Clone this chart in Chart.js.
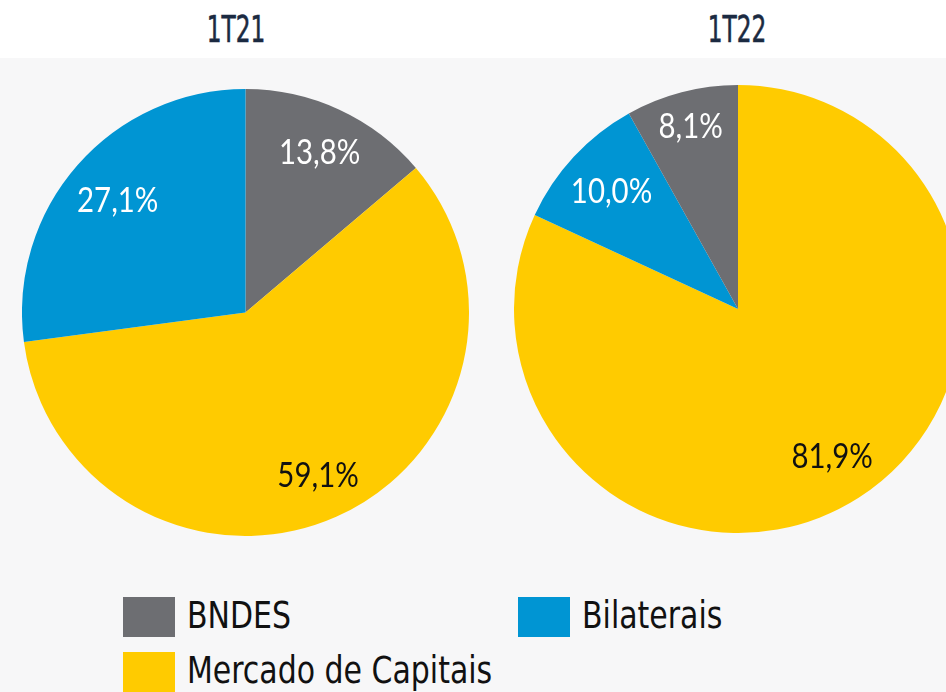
<!DOCTYPE html>
<html><head><meta charset="utf-8">
<script src="https://cdn.jsdelivr.net/npm/chart.js@4.4.1/dist/chart.umd.min.js"></script>
<style>
html,body{margin:0;padding:0;width:946px;height:692px;overflow:hidden;background:#f7f7f8;}
#top{position:absolute;left:0;top:0;width:946px;height:58px;background:#ffffff;}
.title{position:absolute;top:7px;font-family:"DejaVu Sans Condensed",sans-serif;font-size:38px;color:#1b2a41;transform:translateX(-50%) scaleX(0.68);white-space:nowrap;-webkit-text-stroke:0.6px #1b2a41;}
canvas{position:absolute;}
.leg{position:absolute;font-family:"DejaVu Sans Condensed",sans-serif;font-size:37px;color:#111;line-height:40px;transform-origin:0 0;transform:scaleX(0.9);white-space:nowrap;}
.sw{position:absolute;width:52px;height:40px;}
</style></head><body>
<div id="top"></div>
<div class="title" style="left:236px">1T21</div>
<div class="title" style="left:737px">1T22</div>
<canvas id="c1" width="447" height="447" style="left:22px;top:89px"></canvas>
<canvas id="c2" width="448" height="448" style="left:514px;top:85px"></canvas>
<div class="sw" style="left:123px;top:597px;background:#6d6e72"></div>
<div class="leg" style="left:187px;top:596px">BNDES</div>
<div class="sw" style="left:518px;top:597px;background:#0095d3"></div>
<div class="leg" style="left:582px;top:596px">Bilaterais</div>
<div class="sw" style="left:123px;top:652px;background:#ffcb00"></div>
<div class="leg" style="left:187px;top:651px">Mercado de Capitais</div>
<script>
const categories1 = ["BNDES", "Mercado de Capitais", "Bilaterais"];
const values1 = [13.8, 59.1, 27.1];
const categories2 = ["Mercado de Capitais", "Bilaterais", "BNDES"];
const values2 = [81.9, 10.0, 8.1];
const colorMap = {"BNDES":"#6d6e72","Bilaterais":"#0095d3","Mercado de Capitais":"#ffcb00"};
const textMap = {"BNDES":"#ffffff","Bilaterais":"#ffffff","Mercado de Capitais":"#111111"};

const labelPlugin = {
  id:'pctLabels',
  afterDatasetsDraw(chart){
    const ctx = chart.ctx;
    const meta = chart.getDatasetMeta(0);
    const labels = chart.data.labels;
    const vals = chart.data.datasets[0].data;
    const factors = chart.options.plugins.pctLabels.factors;
    meta.data.forEach((arc,i)=>{
      const p = arc.getProps(['x','y','startAngle','endAngle','outerRadius'],true);
      const mid = (p.startAngle+p.endAngle)/2;
      const r = p.outerRadius*factors[i];
      const x = p.x+Math.cos(mid)*r, y = p.y+Math.sin(mid)*r;
      ctx.save();
      ctx.translate(x,y);
      ctx.scale(0.84,1);
      ctx.font = '400 35px Lato,"DejaVu Sans Condensed",sans-serif';
      ctx.fillStyle = textMap[labels[i]];
      ctx.textAlign='center'; ctx.textBaseline='middle';
      ctx.fillText(vals[i].toFixed(1).replace('.',',')+'%', 0, 0);
      ctx.restore();
    });
  }
};

function makePie(id, cats, vals, factors){
  new Chart(document.getElementById(id),{
    type:'pie',
    data:{labels:cats,datasets:[{data:vals,backgroundColor:cats.map(c=>colorMap[c]),borderWidth:0}]},
    options:{responsive:false,animation:false,layout:{padding:0},
      plugins:{legend:{display:false},tooltip:{enabled:false},pctLabels:{factors:factors}}},
    plugins:[labelPlugin]
  });
}
makePie('c1', categories1, values1, [0.79,0.8,0.76]);
makePie('c2', categories2, values2, [0.78,0.77,0.84]);
</script>
</body></html>
